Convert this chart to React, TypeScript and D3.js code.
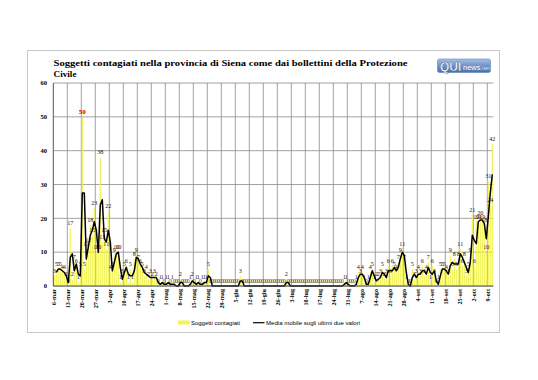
import React from "react";
import * as d3 from "d3";

// Daily new cases, 6 Mar 2020 - 11 Oct 2020
const casesMar = [3,5,5,5,4,4,2, 0,17,2,7,6,1,5, 50,5,11,12,18,15,23, 10,10,38,13,15];
const casesApr = [11,22, 4,5,9,10,10,1,3, 5,6,1,5,1,8,9, 7,6,5,3,4,2,3, 2,3,2,0,1,1,0];
const casesMag = [1,1,0,1,0,0,0, 2,0,0,0,0,1,2, 0,1,1,0,1,1,1, 5,0,0,0,0,0,0, 0,0,0];
const casesGiu = [0,0,0,0, 0,0,3,0,0,0,0, 0,0,0,0,0,0,0,0,0,0,0,0,0,0, 0,0,0,0,2];
const casesLug = [0,0, 0,0,0,0,0,0,0,0,0,0,0,0,0,0,0,0,0,0,0,0,0, 0,0,0,0,0,1,1, 0];
const casesAgo = [0,0,0,1,4,3, 4,1,0,1,4,5,1, 2,2,3,5,2,3,6, 3,6,5,4,7,9,11, 7,1,0,0];
const casesSet = [5,2,3, 4,3,6,3,4,7,1, 6,3,0,1,5,5,5, 4,3,9,5,8,5,8, 11,6,8,3,5,9];
const casesOtt = [21,6,19,19,20,19,18,10,31,24,42];

const tickLabels = [
  "6-mar","13-mar","20-mar","27-mar","3-apr","10-apr","17-apr","24-apr",
  "1-mag","8-mag","15-mag","22-mag","29-mag","5-giu","12-giu","19-giu",
  "26-giu","3-lug","10-lug","17-lug","24-lug","31-lug","7-ago","14-ago",
  "21-ago","28-ago","4-set","11-set","18-set","25-set","2-ott","9-ott",
];
const yTicks = [0, 10, 20, 30, 40, 50, 60];
const titleLines = [
  "Soggetti contagiati  nella provincia di Siena come dai bollettini della Protezione",
  "Civile",
];
const legendBars = "Soggetti contagiati";
const legendLine = "Media mobile sugli ultimi due valori";

const values = [
  ...casesMar, ...casesApr, ...casesMag, ...casesGiu,
  ...casesLug, ...casesAgo, ...casesSet, ...casesOtt,
];
const N = values.length;
const maxIdx = values.indexOf(d3.max(values) as number);

export default function App() {
  const left = 53.3, right = 493.3, top = 83, bottom = 286;
  const x = d3.scaleLinear().domain([0, N]).range([left, right]);
  const y = d3.scaleLinear().domain([0, 60]).range([bottom, top]);
  const step = (right - left) / N;
  const bw = step * 0.62;

  const ma = values.map((v, i) => (i === 0 ? null : (v + values[i - 1]) / 2));
  const line = d3
    .line<number | null>()
    .defined((d) => d !== null)
    .x((_, i) => x(i + 0.5))
    .y((d) => y(d as number));

  const serif = "'Liberation Serif', 'DejaVu Serif', serif";
  const sans = "'Liberation Sans', Arial, sans-serif";

  return (
    <svg
      width={538}
      height={380}
      style={{ position: "absolute", left: 0, top: 0, background: "#fff" }}
    >
      <defs>
        <linearGradient id="logoG" x1="0" y1="0" x2="0" y2="1">
          <stop offset="0" stopColor="#a9c2e4" />
          <stop offset="0.5" stopColor="#6f93c8" />
          <stop offset="1" stopColor="#4a6fa8" />
        </linearGradient>
      </defs>
      {/* frame */}
      <rect x={27.5} y={50.5} width={472} height={282} fill="#fff" stroke="#c8c8c8" strokeWidth={1} />

      {/* title */}
      {titleLines.map((t, i) => (
        <text
          key={i}
          x={53.5}
          y={65.5 + i * 11.5}
          fontFamily={serif}
          fontWeight="bold"
          fontSize={9.2}
          fill="#000"
          {...(i === 0 ? { textLength: 354, lengthAdjust: "spacingAndGlyphs" } : {})}
        >
          {t}
        </text>
      ))}

      {/* logo */}
      <rect x={437.5} y={59} width={53} height={13.5} rx={2} fill="url(#logoG)" stroke="#5f80b0" strokeWidth={0.6} />
      <text x={440} y={70.5} fontFamily={sans} fontWeight="bold" fontSize={12} fill="#fff" stroke="#3d5f95" strokeWidth={0.4}>
        QUI
      </text>
      <text x={463} y={69.5} fontFamily={sans} fontSize={7.5} fill="#fff">
        news
      </text>
      <text x={480.5} y={69.5} fontFamily={sans} fontSize={5.5} fill="#dfe8f5">
        .net
      </text>

      {/* horizontal gridlines */}
      {yTicks.map((t) => (
        <line key={t} x1={left} x2={right} y1={y(t)} y2={y(t)} stroke="#8c8c8c" strokeWidth={0.8} />
      ))}
      {/* vertical gridlines */}
      {tickLabels.map((_, k) =>
        k === 0 ? null : (
          <line key={k} x1={x(k * 7)} x2={x(k * 7)} y1={top} y2={bottom} stroke="#8c8c8c" strokeWidth={0.8} />
        )
      )}

      {/* bars */}
      {values.map((v, i) => (
        <rect
          key={i}
          x={x(i) + (step - bw) / 2}
          y={y(v)}
          width={bw}
          height={bottom - y(v)}
          fill="#f3f35a"
        />
      ))}

      {/* value labels */}
      {values.map((v, i) => (
        <text
          key={i}
          x={x(i + 0.5)}
          y={y(v) - 3.2}
          textAnchor="middle"
          fontFamily={serif}
          fontSize={i === maxIdx ? 7 : 6.2}
          fontWeight={i === maxIdx ? "bold" : "normal"}
          fill={i === maxIdx ? "#d00000" : v === 0 ? "#555" : "#1a1a1a"}
        >
          {v}
        </text>
      ))}

      {/* moving average */}
      <path d={line(ma) || ""} fill="none" stroke="#000" strokeWidth={1.5} strokeLinejoin="round" />

      {/* axes */}
      <line x1={left} x2={left} y1={top} y2={bottom} stroke="#555" strokeWidth={1} />
      <line x1={left} x2={right} y1={bottom} y2={bottom} stroke="#555" strokeWidth={1} />

      {yTicks.map((t) => (
        <text
          key={t}
          x={47}
          y={y(t) + 2.3}
          textAnchor="end"
          fontFamily={serif}
          fontWeight="bold"
          fontSize={6.5}
          fill="#000"
        >
          {t}
        </text>
      ))}

      {tickLabels.map((lab, k) => (
        <text
          key={lab}
          transform={`translate(${x(k * 7 + 0.5) + 2},${bottom + 3}) rotate(-90)`}
          textAnchor="end"
          fontFamily={serif}
          fontWeight="bold"
          fontSize={6.2}
          fill="#000"
        >
          {lab}
        </text>
      ))}

      {/* legend */}
      <rect x={178} y={320.5} width={12} height={4} fill="#f3f35a" />
      <text x={191} y={325} fontFamily={sans} fontSize={6} fill="#000" textLength={49} lengthAdjust="spacingAndGlyphs">
        {legendBars}
      </text>
      <line x1={253} x2={264.5} y1={322.7} y2={322.7} stroke="#000" strokeWidth={1.2} />
      <text x={266} y={325} fontFamily={sans} fontSize={6} fill="#000" textLength={94} lengthAdjust="spacingAndGlyphs">
        {legendLine}
      </text>
    </svg>
  );
}
